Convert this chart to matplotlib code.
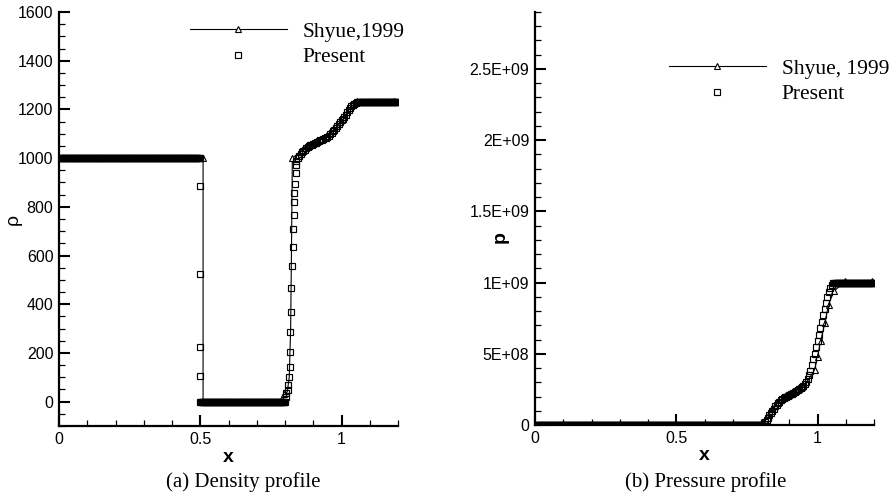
import matplotlib.pyplot as plt
import numpy as np
from matplotlib.ticker import MultipleLocator, FixedLocator, FixedFormatter

# ---------------- data ----------------
# (a) density, Shyue 1999 reference (thin line, triangles on some points)
shyue_rho_x = [0.0, 0.07, 0.13, 0.23, 0.51, 0.51, 0.78, 0.795, 0.808, 0.815,
               0.82, 0.823, 0.826, 0.87, 0.913, 0.95, 1.0, 1.03, 1.056, 1.185, 1.2]
shyue_rho = [1000, 1000, 1000, 1000, 1000, 0, 0, 30, 40, 100,
             300, 630, 1000, 1040, 1070, 1085, 1150, 1205, 1235, 1235, 1235]
shyue_rho_marks = [1, 2, 3, 4, 7, 12, 13, 14, 18, 19]

# (a) density, present scheme (squares, fine mesh)
rho_left_x = np.arange(0.0, 0.5001, 0.0025)          # liquid, rho = 1000
rho_left = np.full(len(rho_left_x), 1000.0)
rho_jump_x = [0.5, 0.5, 0.5, 0.5]
rho_jump = [884, 526, 225, 104]
rho_gas_x = np.arange(0.50, 0.8001, 0.0025)          # gas, rho ~ 0
rho_gas = np.full(len(rho_gas_x), 0.0)
rho_rise_x = [0.803, 0.805, 0.810, 0.812, 0.815, 0.817, 0.818, 0.819, 0.822, 0.823,
              0.825, 0.829, 0.829, 0.831, 0.831, 0.833, 0.836, 0.838, 0.839]
rho_rise = [20, 35, 49, 70, 100, 143, 205, 285, 370, 465,
            556, 637, 710, 768, 821, 858, 895, 940, 970]
rho_band_x = np.arange(0.84, 1.0601, 0.005)
rho_band = [990, 1000, 1010, 1018, 1025, 1030, 1035, 1040, 1045, 1049,
            1052, 1055, 1058, 1061, 1064, 1067, 1070, 1073, 1076, 1078,
            1081, 1084, 1088, 1092, 1097, 1103, 1110, 1117, 1125, 1132,
            1140, 1147, 1155, 1162, 1170, 1179, 1188, 1197, 1205, 1212,
            1218, 1224, 1228, 1231, 1232]
rho_right_x = np.arange(1.0625, 1.2001, 0.0025)
rho_right = np.full(len(rho_right_x), 1232.0)

# (b) pressure, Shyue 1999 reference
shyue_p_x = [0.0, 0.78, 0.80, 0.82, 0.84, 0.86, 0.90, 0.94, 0.965, 0.99, 1.0,
             1.011, 1.026, 1.039, 1.058, 1.099, 1.194, 1.2]
shyue_p = [0, 0, 0.01e9, 0.06e9, 0.12e9, 0.16e9, 0.21e9, 0.25e9, 0.31e9, 0.387e9,
           0.48e9, 0.587e9, 0.716e9, 0.845e9, 0.94e9, 1.01e9, 1.01e9, 1.01e9]
shyue_p_marks = [2, 4, 5, 9, 10, 11, 12, 13, 14, 15, 16]

# (b) pressure, present scheme
p_low_x = np.arange(0.0, 0.8001, 0.0025)
p_low = np.full(len(p_low_x), 0.0)
p_rise_x = np.arange(0.805, 1.0601, 0.005)
p_rise = np.array([0.003, 0.010, 0.022, 0.035, 0.052, 0.070, 0.085, 0.100, 0.115, 0.130,
                   0.143, 0.155, 0.165, 0.175, 0.183, 0.190, 0.195, 0.200, 0.205, 0.210,
                   0.215, 0.220, 0.228, 0.235, 0.240, 0.245, 0.250, 0.257, 0.265, 0.277,
                   0.290, 0.305, 0.325, 0.350, 0.380, 0.420, 0.460, 0.500, 0.545, 0.590,
                   0.635, 0.680, 0.725, 0.770, 0.815, 0.860, 0.900, 0.935, 0.965, 0.985,
                   0.995, 1.000]) * 1e9
p_high_x = np.arange(1.0625, 1.2001, 0.0025)
p_high = np.full(len(p_high_x), 1.0e9)

p_ticks = [0, 5e8, 1e9, 1.5e9, 2e9, 2.5e9]
p_tick_labels = ['0', '5E+08', '1E+09', '1.5E+09', '2E+09', '2.5E+09']

# ---------------- figure ----------------
plt.rcParams['font.family'] = 'Liberation Sans'
fig = plt.figure(figsize=(8.96, 5.0), dpi=100)
ax1 = fig.add_axes([59 / 896, 74 / 500, 339 / 896, 414 / 500])
ax2 = fig.add_axes([535 / 896, 75 / 500, 339 / 896, 413 / 500])

serif = 'Liberation Serif'
sq = dict(ls='none', marker='s', ms=4.3, mfc='none', mec='black', mew=0.85)
tri = dict(color='black', lw=0.8, marker='^', ms=4.5, mfc='white', mec='black', mew=0.8)

# density panel
l1, = ax1.plot(shyue_rho_x, shyue_rho, markevery=shyue_rho_marks, label='Shyue,1999', **tri)
px = np.concatenate([rho_left_x, rho_jump_x, rho_gas_x, rho_rise_x, rho_band_x, rho_right_x])
py = np.concatenate([rho_left, rho_jump, rho_gas, rho_rise, rho_band, rho_right])
l2, = ax1.plot(px, py, label='Present', **sq)
ax1.set_xlim(0, 1.2)
ax1.set_ylim(-100, 1600)
ax1.yaxis.set_major_locator(MultipleLocator(200))
ax1.yaxis.set_minor_locator(MultipleLocator(50))
ax1.set_ylabel('ρ', fontsize=14)
ax1.yaxis.set_label_coords(-0.109, 0.50)

# pressure panel
ax2.plot(shyue_p_x, shyue_p, markevery=shyue_p_marks, label='Shyue, 1999', **tri)
qx = np.concatenate([p_low_x, p_rise_x, p_high_x])
qy = np.concatenate([p_low, p_rise, p_high])
ax2.plot(qx, qy, label='Present', **sq)
ax2.set_xlim(0, 1.2)
ax2.set_ylim(0, 2.9e9)
ax2.yaxis.set_major_locator(FixedLocator(p_ticks))
ax2.yaxis.set_major_formatter(FixedFormatter(p_tick_labels))
ax2.yaxis.set_minor_locator(MultipleLocator(1e8))
ax2.set_ylabel('p', fontsize=14, fontweight='bold')
ax2.yaxis.set_label_coords(-0.077, 0.455)

for ax in (ax1, ax2):
    ax.xaxis.set_major_locator(FixedLocator([0, 0.5, 1.0]))
    ax.xaxis.set_major_formatter(FixedFormatter(['0', '0.5', '1']))
    ax.xaxis.set_minor_locator(MultipleLocator(0.1))
    ax.spines['top'].set_visible(False)
    ax.spines['right'].set_visible(False)
    ax.spines['left'].set_linewidth(1.6)
    ax.spines['bottom'].set_linewidth(1.6)
    ax.tick_params(which='major', direction='in', length=8, width=1.5,
                   labelsize=11.5, pad=4)
    ax.tick_params(which='minor', direction='in', length=4.5, width=0.9)
    ax.set_xlabel('x', fontsize=14, fontweight='bold', va='center')
    ax.xaxis.set_label_coords(0.5, -0.075)

legend_style = dict(loc='upper left', bbox_transform=fig.transFigure, frameon=False,
                    numpoints=1, handlelength=4.5, handletextpad=0.75, labelspacing=0.25,
                    borderpad=0, prop={'family': serif, 'size': 15.5})
ax1.legend(handles=[l1, l2], bbox_to_anchor=(179 / 896, 1 - 11 / 500), **legend_style)
ax2.legend(bbox_to_anchor=(658 / 896, 1 - 48 / 500), **legend_style)

fig.text(243 / 896, 1 - 482 / 500, '(a) Density profile', ha='center', va='center',
         family=serif, fontsize=15)
fig.text(706 / 896, 1 - 482 / 500, '(b) Pressure profile', ha='center', va='center',
         family=serif, fontsize=15)

fig.savefig('out.png', dpi=100)
